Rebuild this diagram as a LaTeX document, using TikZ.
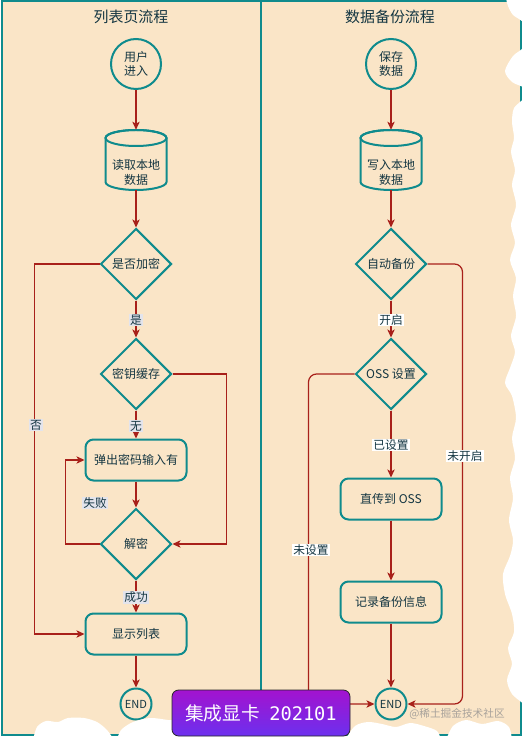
\documentclass[tikz,border=0pt]{standalone}
\usepackage{fontspec}
\setmainfont{Noto Sans CJK SC}
\newfontfamily\monofont{DejaVu Sans Mono}
\usetikzlibrary{shapes.geometric,arrows.meta,calc}
\definecolor{paper}{HTML}{FAE5C7}
\definecolor{lanecol}{HTML}{0F8B8D}
\definecolor{edgecol}{HTML}{A8201A}
\definecolor{txtcol}{HTML}{143642}
\definecolor{lblbg}{HTML}{E3E4EC}
\definecolor{wmcol}{HTML}{A8A29B}
\definecolor{badgetop}{HTML}{A313CF}
\definecolor{badgebot}{HTML}{6C30EE}
\newcommand\mycyl[2]{%
  \draw[draw=lanecol, fill=paper, line width=1.5pt]
    (#1-30.5,#2-22) -- (#1-30.5,#2+22)
    arc[start angle=180,end angle=0,x radius=30.5,y radius=8]
    -- (#1+30.5,#2-22)
    arc[start angle=0,end angle=-180,x radius=30.5,y radius=8] -- cycle;
  \draw[draw=lanecol, line width=1.5pt] (#1,#2-22) ellipse[x radius=30.5,y radius=8];}
\begin{document}
\begin{tikzpicture}[x=0.75pt,y=-0.75pt,
  every node/.style={text=txtcol},
  base/.style={draw=lanecol, fill=paper, line width=1.5pt, font=\fontsize{9}{10.5}\selectfont, align=center, inner sep=0pt},
  startc/.style={base, circle, minimum size=37.5pt},
  endc/.style={base, circle, minimum size=23.25pt, font=\fontsize{8.3}{10}\selectfont},
  decision/.style={base, diamond, minimum width=53.25pt, minimum height=53.25pt},
  procbox/.style={base, rectangle, rounded corners=6pt, minimum width=75.75pt, minimum height=30.75pt},
  cylbox/.style={rectangle, minimum width=45.75pt, minimum height=45pt, inner sep=0pt},
  cyltext/.style={align=center, inner sep=0pt, font=\fontsize{9}{11.2}\selectfont},
  conn/.style={draw=edgecol, line width=0.9pt, -{Stealth[length=6pt,width=5.5pt,inset=1.5pt]}},
  lbl/.style={fill=lblbg, inner sep=0.8pt, font=\fontsize{8.8}{10}\selectfont},
  lblw/.style={lbl, fill=white},
  lanebox/.style={draw=lanecol, fill=paper, line width=1.5pt},
  titletext/.style={font=\fontsize{11.2}{13}\selectfont},
  badge/.style={rectangle, rounded corners=5pt, draw=black!85, line width=0.6pt, top color=badgetop, bottom color=badgebot, minimum width=133.5pt, minimum height=34.5pt, text=white, font=\fontsize{14}{16}\selectfont},
  tear/.style={fill=white}]
\useasboundingbox (0,0) rectangle (522,737);
\fill[white] (0,0) rectangle (522,737);
% lanes
\draw[lanebox] (2,1.5) rectangle (261,735);
\draw[lanebox] (261,1.5) rectangle (520.5,735);
\node[titletext] (t1) at (131,17) {列表页流程};
\node[titletext] (t2) at (390,17) {数据备份流程};
% left column
\node[startc] (u1) at (136,64) {用户\\进入};
\mycyl{136}{160}
\node[cylbox] (c1) at (136,160) {};
\node[cyltext] (c1t) at (136,172) {读取本地\\数据};
\node[decision] (d1) at (136,264) {是否加密};
\node[decision] (d2) at (136,374) {密钥缓存};
\node[procbox] (r1) at (136,460) {弹出密码输入有};
\node[decision] (d3) at (136,544) {解密};
\node[procbox] (r2) at (136,634) {显示列表};
\node[endc] (e1) at (136,704) {END};
% right column
\node[startc] (u2) at (391,64) {保存\\数据};
\mycyl{391}{160}
\node[cylbox] (c2) at (391,160) {};
\node[cyltext] (c2t) at (391,172) {写入本地\\数据};
\node[decision] (d4) at (391,264) {自动备份};
\node[decision] (d5) at (391,374) {OSS 设置};
\node[procbox] (r3) at (391,499) {直传到 OSS};
\node[procbox] (r4) at (391,602) {记录备份信息};
\node[endc] (e2) at (391,704) {END};
% left connectors
\draw[conn] (u1) -- (c1);
\draw[conn] (c1) -- (d1);
\draw[conn] (d1) -- (d2);
\draw[conn] (d2) -- (r1);
\draw[conn] (r1) -- (d3);
\draw[conn] (d3) -- (r2);
\draw[conn] (r2) -- (e1);
\draw[conn] (d1.west) -- ++(-65,0) |- (r2.west);
\draw[conn] (d2.east) -- ++(54,0) |- (d3.east);
\draw[conn] (d3.west) -- ++(-34,0) |- (r1.west);
% right connectors
\draw[conn] (u2) -- (c2);
\draw[conn] (c2) -- (d4);
\draw[conn] (d4) -- (d5);
\draw[conn] (d5) -- (r3);
\draw[conn] (r3) -- (r4);
\draw[conn] (r4) -- (e2);
\draw[conn, rounded corners=6pt] (d4.east) -- ++(35,0) |- (e2.east);
\draw[conn, rounded corners=6pt] (d5.west) -- ++(-46,0) |- (e2.west);
% labels
\node[lbl] (l1) at (136,320) {是};
\node[lbl] (l2) at (136,426) {无};
\node[lbl] (l3) at (95,503) {失败};
\node[lbl] (l4) at (136,597) {成功};
\node[lbl] (l5) at (36,425) {否};
\node[lblw] (l6) at (391,320) {开启};
\node[lblw] (l7) at (391,445) {已设置};
\node[lblw] (l8) at (465,456) {未开启};
\node[lblw] (l9) at (311,550) {未设置};
% torn paper edge
\fill[tear] plot[smooth] coordinates {(506,-2) (508,6) (513,15) (524,24) (524,46) (513,56) (505,71) (512,82) (524,88) (524,98) (514,108) (512,122) (514,138) (511,152) (515,170) (512,185) (516,205) (511,225) (515,243) (510,260) (516,278) (513,296) (516,316) (511,336) (515,352) (510,368) (505,383) (512,396) (516,418) (512,438) (515,458) (510,478) (513,498) (509,520) (513,540) (510,556) (503,574) (505,594) (512,614) (514,632) (508,648) (512,664) (507,680) (512,694) (524,704)} -- (530,704) -- (530,-5) -- cycle;
\fill[tear] plot[smooth] coordinates {(512,740) (509,727) (498,721) (482,724) (466,720) (453,726) (446,740)} -- cycle;
\fill[tear] plot[smooth] coordinates {(441,740) (437,731) (424,726) (410,723) (396,727) (382,724) (368,722) (355,726) (345,740)} -- cycle;
\fill[tear] plot[smooth] coordinates {(33,740) (37,727) (46,721) (58,722) (68,718) (84,718) (97,722) (107,730) (114,740)} -- cycle;
\fill[tear] plot[smooth] coordinates {(117,740) (121,730) (133,722) (150,718) (168,720) (180,722) (182,740)} -- cycle;
% overlays
\node[text=wmcol, font=\fontsize{8}{9}\selectfont] (wm) at (457,714) {@稀土掘金技术社区};
\node[badge] (bdg) at (261,713) {集成显卡\hspace{7pt}{\monofont 202101}};
\end{tikzpicture}
\end{document}
